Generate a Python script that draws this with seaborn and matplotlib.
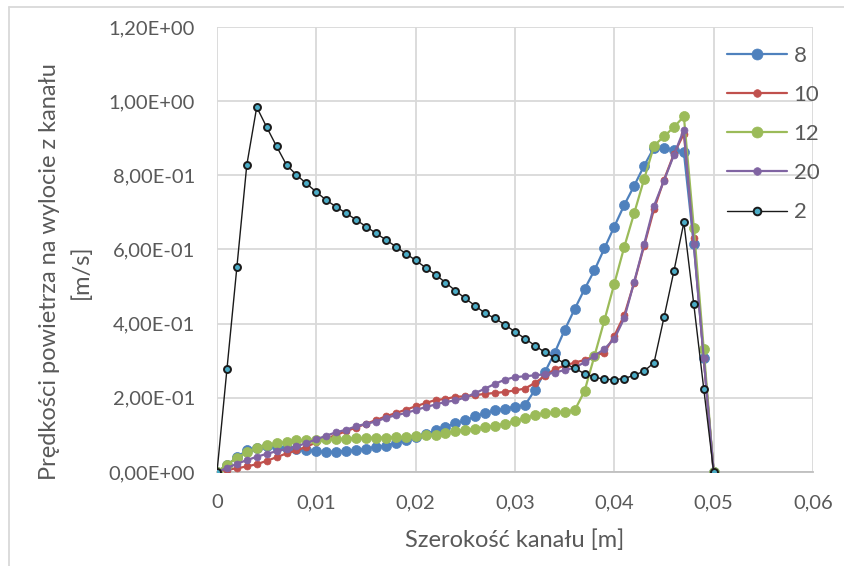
import matplotlib
matplotlib.use("Agg")
import matplotlib.pyplot as plt
from matplotlib.ticker import FuncFormatter
from matplotlib.lines import Line2D
import seaborn as sns
import pandas as pd

# ---- data ----
x_m = [0.000, 0.001, 0.002, 0.003, 0.004, 0.005, 0.006, 0.007, 0.008, 0.009,
       0.010, 0.011, 0.012, 0.013, 0.014, 0.015, 0.016, 0.017, 0.018, 0.019,
       0.020, 0.021, 0.022, 0.023, 0.024, 0.025, 0.026, 0.027, 0.028, 0.029,
       0.030, 0.031, 0.032, 0.033, 0.034, 0.035, 0.036, 0.037, 0.038, 0.039,
       0.040, 0.041, 0.042, 0.043, 0.044, 0.045, 0.046, 0.047, 0.048, 0.049,
       0.050]

v8 = [0, 0.018, 0.040, 0.058, 0.066, 0.069, 0.068, 0.066, 0.063, 0.059,
      0.056, 0.054, 0.055, 0.057, 0.059, 0.063, 0.068, 0.071, 0.078, 0.085,
      0.095, 0.103, 0.112, 0.122, 0.131, 0.139, 0.150, 0.159, 0.166, 0.171,
      0.176, 0.180, 0.221, 0.269, 0.322, 0.383, 0.439, 0.493, 0.544, 0.603,
      0.662, 0.720, 0.772, 0.826, 0.875, 0.873, 0.869, 0.862, 0.614, 0.308,
      0]

v10 = [0, 0.006, 0.010, 0.015, 0.021, 0.030, 0.040, 0.050, 0.058, 0.068,
       0.080, 0.090, 0.100, 0.110, 0.120, 0.130, 0.140, 0.150, 0.159, 0.168,
       0.177, 0.186, 0.194, 0.197, 0.203, 0.204, 0.207, 0.211, 0.213, 0.216,
       0.220, 0.225, 0.240, 0.259, 0.277, 0.287, 0.295, 0.302, 0.313, 0.322,
       0.367, 0.423, 0.511, 0.610, 0.709, 0.788, 0.858, 0.912, 0.632, 0.308,
       0]

v12 = [0, 0.020, 0.038, 0.053, 0.066, 0.073, 0.077, 0.081, 0.085, 0.086,
       0.087, 0.088, 0.089, 0.090, 0.091, 0.092, 0.093, 0.093, 0.094, 0.095,
       0.096, 0.099, 0.101, 0.105, 0.110, 0.114, 0.117, 0.121, 0.125, 0.130,
       0.137, 0.145, 0.154, 0.158, 0.161, 0.163, 0.166, 0.218, 0.313, 0.409,
       0.508, 0.607, 0.698, 0.790, 0.880, 0.905, 0.930, 0.959, 0.659, 0.331,
       0]

v20 = [0, 0.011, 0.022, 0.032, 0.041, 0.049, 0.056, 0.062, 0.069, 0.078,
       0.088, 0.098, 0.107, 0.114, 0.123, 0.130, 0.136, 0.146, 0.153, 0.159,
       0.167, 0.175, 0.182, 0.189, 0.193, 0.201, 0.213, 0.225, 0.238, 0.249,
       0.256, 0.258, 0.261, 0.263, 0.268, 0.275, 0.281, 0.296, 0.313, 0.332,
       0.359, 0.415, 0.513, 0.614, 0.718, 0.786, 0.855, 0.923, 0.614, 0.308,
       0]

v2 = [0, 0.277, 0.552, 0.828, 0.984, 0.930, 0.878, 0.828, 0.801, 0.778,
      0.755, 0.733, 0.715, 0.698, 0.680, 0.662, 0.644, 0.626, 0.608, 0.589,
      0.571, 0.551, 0.532, 0.511, 0.489, 0.468, 0.448, 0.428, 0.414, 0.397,
      0.378, 0.360, 0.341, 0.323, 0.308, 0.293, 0.280, 0.265, 0.256, 0.250,
      0.249, 0.252, 0.261, 0.272, 0.295, 0.417, 0.542, 0.673, 0.452, 0.225,
      0]

series_names = ["8", "10", "12", "20", "2"]
series_values = [v8, v10, v12, v20, v2]

x_ticks = [0, 0.01, 0.02, 0.03, 0.04, 0.05, 0.06]
y_ticks = [0, 0.2, 0.4, 0.6, 0.8, 1.0, 1.2]

x_label = "Szerokość kanału [m]"
y_label = "Prędkości powietrza na wylocie z kanału\n[m/s]"

# ---- style ----
sns.set_theme(style="white")
plt.rcParams["font.family"] = ["Lato", "DejaVu Sans"]

styles = {
    "8":  dict(color="#4F81BD", lw=1.6, marker="o", ms=7.2, mfc="#4F81BD", mec="#4F81BD", mew=0.5),
    "10": dict(color="#C0504D", lw=1.6, marker="o", ms=5.0, mfc="#C0504D", mec="#C0504D", mew=0.5),
    "12": dict(color="#9BBB59", lw=1.6, marker="o", ms=7.2, mfc="#9BBB59", mec="#9BBB59", mew=0.5),
    "20": dict(color="#8064A2", lw=1.6, marker="o", ms=5.0, mfc="#8064A2", mec="#8064A2", mew=0.5),
    "2":  dict(color="#1a1a1a", lw=1.0, marker="o", ms=5.0, mfc="#4BACC6", mec="#1a1a1a", mew=1.4),
}

W, H = 845, 566
fig = plt.figure(figsize=(W / 100, H / 100), dpi=100)
ax = fig.add_axes([217 / W, 1 - 472 / H, (813 - 217) / W, (472 - 27) / H])

for name, vals in zip(series_names, series_values):
    st = styles[name]
    df = pd.DataFrame({"x": x_m, "y": vals})
    sns.lineplot(data=df, x="x", y="y", ax=ax, color=st["color"], linewidth=st["lw"],
                 marker=st["marker"], markersize=st["ms"], markerfacecolor=st["mfc"],
                 markeredgecolor=st["mec"], markeredgewidth=st["mew"], legend=False,
                 zorder=3)

ax.set_xlim(0, 0.06)
ax.set_ylim(0, 1.2)
ax.set_xticks(x_ticks)
ax.set_yticks(y_ticks)
ax.xaxis.set_major_formatter(FuncFormatter(lambda v, p: "0" if abs(v) < 1e-12 else f"{v:.2f}".replace(".", ",")))
ax.yaxis.set_major_formatter(FuncFormatter(lambda v, p: f"{v:.2E}".replace(".", ",")))
ax.grid(True, color="#D9D9D9", linewidth=1.3)
ax.set_axisbelow(True)
for s in ["top", "right", "left"]:
    ax.spines[s].set_visible(False)
ax.spines["bottom"].set_color("#BFBFBF")
ax.spines["bottom"].set_linewidth(1.3)
ax.tick_params(axis="both", length=0, labelsize=14.5, labelcolor="#595959")
ax.tick_params(axis="y", pad=16)
ax.tick_params(axis="x", pad=16)

ax.set_xlabel(x_label, fontsize=17, color="#595959", labelpad=13)
ax.set_ylabel(y_label, fontsize=17, color="#595959", labelpad=12, linespacing=1.55)
ax.yaxis.label.set_y(0.45)

handles = []
for name in series_names:
    st = styles[name]
    handles.append(Line2D([], [], color=st["color"], lw=st["lw"], marker=st["marker"],
                          ms=st["ms"] * 1.1, mfc=st["mfc"], mec=st["mec"], mew=st["mew"]))
leg = fig.legend(handles, series_names, loc="upper left",
                 bbox_to_anchor=(718 / W, 1 - 37 / H), frameon=False,
                 fontsize=16, labelcolor="#595959", handlelength=2.7,
                 handletextpad=0.3, labelspacing=0.86, borderaxespad=0)

# chart border (partial, as in the reference)
fig.add_artist(Line2D([9 / W, 1], [1 - 7 / H, 1 - 7 / H], color="#D9D9D9", lw=1.3))
fig.add_artist(Line2D([9 / W, 9 / W], [0, 1 - 7 / H], color="#D9D9D9", lw=1.3))

fig.savefig("out.png", dpi=100)
